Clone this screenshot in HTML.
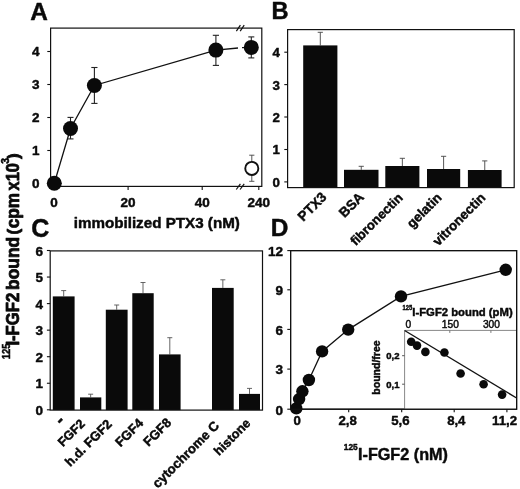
<!DOCTYPE html>
<html><head><meta charset="utf-8"><title>Figure</title>
<style>
html,body{margin:0;padding:0;background:#fff;}
svg{display:block;font-family:"Liberation Sans", sans-serif;}
text{stroke:#0a0a0a;stroke-width:0.45px;stroke-linejoin:round;}
</style></head><body>
<svg width="520" height="489" viewBox="0 0 520 489">
<rect width="520" height="489" fill="#fff"/>
<text x="30.2" y="20" font-size="24.4" font-weight="bold" text-anchor="start" fill="#0a0a0a">A</text>
<rect x="50.6" y="28.1" width="211.20000000000002" height="158.3" fill="none" stroke="#111" stroke-width="1.2"/>
<line x1="47.300000000000004" y1="183.5" x2="50.6" y2="183.5" stroke="#111" stroke-width="1.1"/>
<text x="39.5" y="188.2" font-size="13.5" font-weight="bold" text-anchor="end" fill="#0a0a0a">0</text>
<line x1="47.300000000000004" y1="150.5" x2="50.6" y2="150.5" stroke="#111" stroke-width="1.1"/>
<text x="39.5" y="155.2" font-size="13.5" font-weight="bold" text-anchor="end" fill="#0a0a0a">1</text>
<line x1="47.300000000000004" y1="117.5" x2="50.6" y2="117.5" stroke="#111" stroke-width="1.1"/>
<text x="39.5" y="122.2" font-size="13.5" font-weight="bold" text-anchor="end" fill="#0a0a0a">2</text>
<line x1="47.300000000000004" y1="84.5" x2="50.6" y2="84.5" stroke="#111" stroke-width="1.1"/>
<text x="39.5" y="89.2" font-size="13.5" font-weight="bold" text-anchor="end" fill="#0a0a0a">3</text>
<line x1="47.300000000000004" y1="51.5" x2="50.6" y2="51.5" stroke="#111" stroke-width="1.1"/>
<text x="39.5" y="56.2" font-size="13.5" font-weight="bold" text-anchor="end" fill="#0a0a0a">4</text>
<text x="54" y="207" font-size="13.5" font-weight="bold" text-anchor="middle" fill="#0a0a0a">0</text>
<text x="128.1" y="207" font-size="13.5" font-weight="bold" text-anchor="middle" fill="#0a0a0a">20</text>
<text x="202.2" y="207" font-size="13.5" font-weight="bold" text-anchor="middle" fill="#0a0a0a">40</text>
<text x="258.7" y="207" font-size="13.5" font-weight="bold" text-anchor="middle" fill="#0a0a0a">240</text>
<line x1="54" y1="186.4" x2="54" y2="189.9" stroke="#111" stroke-width="1.1"/>
<line x1="128.1" y1="186.4" x2="128.1" y2="189.9" stroke="#111" stroke-width="1.1"/>
<line x1="202.2" y1="186.4" x2="202.2" y2="189.9" stroke="#111" stroke-width="1.1"/>
<line x1="258.8" y1="186.4" x2="258.8" y2="189.9" stroke="#111" stroke-width="1.1"/>
<line x1="236.37300000000002" y1="31.1" x2="240.4" y2="25.1" stroke="#111" stroke-width="1.2"/>
<line x1="240.173" y1="31.1" x2="244.2" y2="25.1" stroke="#111" stroke-width="1.2"/>
<line x1="236.3" y1="189.5" x2="240.4" y2="183.8" stroke="#111" stroke-width="1.2"/>
<line x1="240.1" y1="189.5" x2="244.2" y2="183.8" stroke="#111" stroke-width="1.2"/>
<text x="156.8" y="228.3" font-size="15.2" font-weight="bold" text-anchor="middle" fill="#0a0a0a">immobilized PTX3 (nM)</text>
<polyline fill="none" stroke="#111" stroke-width="1.3" points="54.3,183.3 70.5,128.5 94.4,85.5 215.9,50.1 238,48"/>
<line x1="242" y1="47.6" x2="251" y2="47.4" stroke="#111" stroke-width="1.3"/>
<line x1="70.5" y1="117.4" x2="70.5" y2="138.9" stroke="#222" stroke-width="1.1"/>
<line x1="67.5" y1="117.4" x2="73.5" y2="117.4" stroke="#222" stroke-width="1.1"/>
<line x1="67.5" y1="138.9" x2="73.5" y2="138.9" stroke="#222" stroke-width="1.1"/>
<line x1="94.4" y1="67.5" x2="94.4" y2="103.4" stroke="#222" stroke-width="1.1"/>
<line x1="91.30000000000001" y1="67.5" x2="97.5" y2="67.5" stroke="#222" stroke-width="1.1"/>
<line x1="91.30000000000001" y1="103.4" x2="97.5" y2="103.4" stroke="#222" stroke-width="1.1"/>
<line x1="215.9" y1="35.3" x2="215.9" y2="65.4" stroke="#222" stroke-width="1.1"/>
<line x1="212.8" y1="35.3" x2="219.0" y2="35.3" stroke="#222" stroke-width="1.1"/>
<line x1="212.8" y1="65.4" x2="219.0" y2="65.4" stroke="#222" stroke-width="1.1"/>
<line x1="251.3" y1="36.9" x2="251.3" y2="57.9" stroke="#222" stroke-width="1.1"/>
<line x1="248.3" y1="36.9" x2="254.3" y2="36.9" stroke="#222" stroke-width="1.1"/>
<line x1="248.3" y1="57.9" x2="254.3" y2="57.9" stroke="#222" stroke-width="1.1"/>
<line x1="251.8" y1="155.2" x2="251.8" y2="181.3" stroke="#444" stroke-width="0.9"/>
<line x1="249.20000000000002" y1="155.2" x2="254.4" y2="155.2" stroke="#444" stroke-width="0.9"/>
<line x1="249.20000000000002" y1="181.3" x2="254.4" y2="181.3" stroke="#444" stroke-width="0.9"/>
<circle cx="54.3" cy="183.3" r="7.5" fill="#0a0a0a"/>
<circle cx="70.5" cy="128.5" r="7.5" fill="#0a0a0a"/>
<circle cx="94.4" cy="85.5" r="7.5" fill="#0a0a0a"/>
<circle cx="215.9" cy="50.1" r="7.5" fill="#0a0a0a"/>
<circle cx="251.3" cy="47.4" r="7.5" fill="#0a0a0a"/>
<circle cx="251.8" cy="168.4" r="6.55" fill="#fff" stroke="#111" stroke-width="1.9"/>
<text transform="translate(9.7,359.3) rotate(-90)" font-size="10.6" font-weight="bold" fill="#0a0a0a" style="stroke-width:0.5px" textLength="15.8" lengthAdjust="spacingAndGlyphs">125</text>
<text transform="translate(19.35,345.6) rotate(-90)" font-size="18" font-weight="bold" fill="#0a0a0a" style="stroke-width:0.8px" textLength="53" lengthAdjust="spacingAndGlyphs">I-FGF2</text>
<text transform="translate(19.35,289.9) rotate(-90)" font-size="18" font-weight="bold" fill="#0a0a0a" style="stroke-width:0.8px" textLength="53.1" lengthAdjust="spacingAndGlyphs">bound</text>
<text transform="translate(19.0,234.4) rotate(-90)" font-size="16.3" font-weight="bold" fill="#0a0a0a" style="stroke-width:0.8px" textLength="5.6" lengthAdjust="spacingAndGlyphs">(</text>
<text transform="translate(19.35,228.3) rotate(-90)" font-size="18" font-weight="bold" fill="#0a0a0a" style="stroke-width:0.8px" textLength="35.4" lengthAdjust="spacingAndGlyphs">cpm</text>
<text transform="translate(19.35,190.4) rotate(-90)" font-size="18" font-weight="bold" fill="#0a0a0a" style="stroke-width:0.8px" textLength="27.4" lengthAdjust="spacingAndGlyphs">x10</text>
<text transform="translate(8.7,163.7) rotate(-90)" font-size="10.3" font-weight="bold" fill="#0a0a0a" style="stroke-width:0.5px">3</text>
<text transform="translate(19.0,159) rotate(-90)" font-size="16.3" font-weight="bold" fill="#0a0a0a" style="stroke-width:0.8px" textLength="5.6" lengthAdjust="spacingAndGlyphs">)</text>
<text x="271.4" y="19" font-size="23.6" font-weight="bold" text-anchor="start" fill="#0a0a0a">B</text>
<line x1="320.29999999999995" y1="32.3" x2="320.29999999999995" y2="45.4" stroke="#444" stroke-width="0.9"/>
<line x1="317.69999999999993" y1="32.3" x2="322.9" y2="32.3" stroke="#444" stroke-width="0.9"/>
<rect x="303.20" y="45.40" width="34.20" height="142.20" fill="#0a0a0a"/>
<line x1="361.25" y1="166.3" x2="361.25" y2="169.8" stroke="#444" stroke-width="0.9"/>
<line x1="358.65" y1="166.3" x2="363.85" y2="166.3" stroke="#444" stroke-width="0.9"/>
<rect x="344.00" y="169.80" width="34.50" height="17.80" fill="#0a0a0a"/>
<line x1="402.35" y1="158.3" x2="402.35" y2="166" stroke="#444" stroke-width="0.9"/>
<line x1="399.75" y1="158.3" x2="404.95000000000005" y2="158.3" stroke="#444" stroke-width="0.9"/>
<rect x="385.30" y="166.00" width="34.10" height="21.60" fill="#0a0a0a"/>
<line x1="443.6" y1="156.3" x2="443.6" y2="169" stroke="#444" stroke-width="0.9"/>
<line x1="441.0" y1="156.3" x2="446.20000000000005" y2="156.3" stroke="#444" stroke-width="0.9"/>
<rect x="427.00" y="169.00" width="33.20" height="18.60" fill="#0a0a0a"/>
<line x1="484.75" y1="160.9" x2="484.75" y2="170" stroke="#444" stroke-width="0.9"/>
<line x1="482.15" y1="160.9" x2="487.35" y2="160.9" stroke="#444" stroke-width="0.9"/>
<rect x="467.90" y="170.00" width="33.70" height="17.60" fill="#0a0a0a"/>
<rect x="287.6" y="29.6" width="226.60000000000002" height="158.0" fill="none" stroke="#111" stroke-width="1.2"/>
<line x1="284.3" y1="181.9" x2="287.6" y2="181.9" stroke="#111" stroke-width="1.1"/>
<text x="279.8" y="186.8" font-size="13.3" font-weight="bold" text-anchor="end" fill="#0a0a0a">0</text>
<line x1="284.3" y1="149.5" x2="287.6" y2="149.5" stroke="#111" stroke-width="1.1"/>
<text x="279.8" y="154.4" font-size="13.3" font-weight="bold" text-anchor="end" fill="#0a0a0a">1</text>
<line x1="284.3" y1="117" x2="287.6" y2="117" stroke="#111" stroke-width="1.1"/>
<text x="279.8" y="121.9" font-size="13.3" font-weight="bold" text-anchor="end" fill="#0a0a0a">2</text>
<line x1="284.3" y1="84.6" x2="287.6" y2="84.6" stroke="#111" stroke-width="1.1"/>
<text x="279.8" y="89.5" font-size="13.3" font-weight="bold" text-anchor="end" fill="#0a0a0a">3</text>
<line x1="284.3" y1="52.2" x2="287.6" y2="52.2" stroke="#111" stroke-width="1.1"/>
<text x="279.8" y="57.1" font-size="13.3" font-weight="bold" text-anchor="end" fill="#0a0a0a">4</text>
<text x="327.4" y="197.9" font-size="13.6" font-weight="bold" text-anchor="end" fill="#0a0a0a" transform="rotate(-45 327.4 197.9)">PTX3</text>
<text x="364.75" y="198.0" font-size="13.6" font-weight="bold" text-anchor="end" fill="#0a0a0a" transform="rotate(-45 364.75 198.0)">BSA</text>
<text x="403.55" y="198.5" font-size="13.1" font-weight="bold" text-anchor="end" fill="#0a0a0a" transform="rotate(-45 403.55 198.5)">fibronectin</text>
<text x="442.5" y="198.5" font-size="13.3" font-weight="bold" text-anchor="end" fill="#0a0a0a" transform="rotate(-45 442.5 198.5)">gelatin</text>
<text x="486.25" y="198.5" font-size="13.3" font-weight="bold" text-anchor="end" fill="#0a0a0a" transform="rotate(-45 486.25 198.5)">vitronectin</text>
<text x="31.3" y="237" font-size="25" font-weight="bold" text-anchor="start" fill="#0a0a0a">C</text>
<line x1="63.699999999999996" y1="290.6" x2="63.699999999999996" y2="296.4" stroke="#555" stroke-width="0.9"/>
<line x1="61.199999999999996" y1="290.6" x2="66.19999999999999" y2="290.6" stroke="#555" stroke-width="0.9"/>
<rect x="52.80" y="296.40" width="21.80" height="113.70" fill="#0a0a0a"/>
<line x1="90.65" y1="394.2" x2="90.65" y2="397.4" stroke="#555" stroke-width="0.9"/>
<line x1="88.15" y1="394.2" x2="93.15" y2="394.2" stroke="#555" stroke-width="0.9"/>
<rect x="80.00" y="397.40" width="21.30" height="12.70" fill="#0a0a0a"/>
<line x1="116.69999999999999" y1="305" x2="116.69999999999999" y2="309.7" stroke="#555" stroke-width="0.9"/>
<line x1="114.19999999999999" y1="305" x2="119.19999999999999" y2="305" stroke="#555" stroke-width="0.9"/>
<rect x="105.80" y="309.70" width="21.80" height="100.40" fill="#0a0a0a"/>
<line x1="143.0" y1="282.5" x2="143.0" y2="293.2" stroke="#555" stroke-width="0.9"/>
<line x1="140.5" y1="282.5" x2="145.5" y2="282.5" stroke="#555" stroke-width="0.9"/>
<rect x="132.30" y="293.20" width="21.40" height="116.90" fill="#0a0a0a"/>
<line x1="169.8" y1="337.7" x2="169.8" y2="354.4" stroke="#555" stroke-width="0.9"/>
<line x1="167.3" y1="337.7" x2="172.3" y2="337.7" stroke="#555" stroke-width="0.9"/>
<rect x="159.00" y="354.40" width="21.60" height="55.70" fill="#0a0a0a"/>
<line x1="222.85" y1="279.8" x2="222.85" y2="287.9" stroke="#555" stroke-width="0.9"/>
<line x1="220.35" y1="279.8" x2="225.35" y2="279.8" stroke="#555" stroke-width="0.9"/>
<rect x="212.00" y="287.90" width="21.70" height="122.20" fill="#0a0a0a"/>
<line x1="249.5" y1="388.4" x2="249.5" y2="393.9" stroke="#555" stroke-width="0.9"/>
<line x1="247.0" y1="388.4" x2="252.0" y2="388.4" stroke="#555" stroke-width="0.9"/>
<rect x="239.00" y="393.90" width="21.00" height="16.20" fill="#0a0a0a"/>
<rect x="50.2" y="250.9" width="212.3" height="159.20000000000002" fill="none" stroke="#111" stroke-width="1.2"/>
<line x1="46.900000000000006" y1="409.8" x2="50.2" y2="409.8" stroke="#111" stroke-width="1.1"/>
<text x="43" y="414.8" font-size="13.5" font-weight="bold" text-anchor="end" fill="#0a0a0a">0</text>
<line x1="46.900000000000006" y1="383.25" x2="50.2" y2="383.25" stroke="#111" stroke-width="1.1"/>
<text x="43" y="388.25" font-size="13.5" font-weight="bold" text-anchor="end" fill="#0a0a0a">1</text>
<line x1="46.900000000000006" y1="356.7" x2="50.2" y2="356.7" stroke="#111" stroke-width="1.1"/>
<text x="43" y="361.7" font-size="13.5" font-weight="bold" text-anchor="end" fill="#0a0a0a">2</text>
<line x1="46.900000000000006" y1="330.15" x2="50.2" y2="330.15" stroke="#111" stroke-width="1.1"/>
<text x="43" y="335.15" font-size="13.5" font-weight="bold" text-anchor="end" fill="#0a0a0a">3</text>
<line x1="46.900000000000006" y1="303.6" x2="50.2" y2="303.6" stroke="#111" stroke-width="1.1"/>
<text x="43" y="308.6" font-size="13.5" font-weight="bold" text-anchor="end" fill="#0a0a0a">4</text>
<line x1="46.900000000000006" y1="277.05" x2="50.2" y2="277.05" stroke="#111" stroke-width="1.1"/>
<text x="43" y="282.05" font-size="13.5" font-weight="bold" text-anchor="end" fill="#0a0a0a">5</text>
<line x1="46.900000000000006" y1="250.5" x2="50.2" y2="250.5" stroke="#111" stroke-width="1.1"/>
<text x="43" y="255.5" font-size="13.5" font-weight="bold" text-anchor="end" fill="#0a0a0a">6</text>
<text x="65.8" y="422.0" font-size="18.5" font-weight="bold" text-anchor="end" fill="#0a0a0a" transform="rotate(-45 65.8 422.0)">-</text>
<text x="85.65" y="424.5" font-size="12.6" font-weight="bold" text-anchor="end" fill="#0a0a0a" transform="rotate(-45 85.65 424.5)">FGF2</text>
<text x="112.69999999999999" y="424.8" font-size="13.0" font-weight="bold" text-anchor="end" fill="#0a0a0a" transform="rotate(-45 112.69999999999999 424.8)">h.d. FGF2</text>
<text x="144.0" y="424.0" font-size="13" font-weight="bold" text-anchor="end" fill="#0a0a0a" transform="rotate(-45 144.0 424.0)">FGF4</text>
<text x="172.10000000000002" y="423.5" font-size="13" font-weight="bold" text-anchor="end" fill="#0a0a0a" transform="rotate(-45 172.10000000000002 423.5)">FGF8</text>
<text x="220.04999999999998" y="426.5" font-size="13.2" font-weight="bold" text-anchor="end" fill="#0a0a0a" transform="rotate(-45 220.04999999999998 426.5)">cytochrome C</text>
<text x="251.3" y="424.0" font-size="12.8" font-weight="bold" text-anchor="end" fill="#0a0a0a" transform="rotate(-45 251.3 424.0)">histone</text>
<text x="270.7" y="235.6" font-size="24.4" font-weight="bold" text-anchor="start" fill="#0a0a0a">D</text>
<rect x="290.6" y="250.6" width="226.0" height="158.6" fill="none" stroke="#111" stroke-width="1.2"/>
<line x1="287.3" y1="409.2" x2="290.6" y2="409.2" stroke="#111" stroke-width="1.1"/>
<text x="283" y="414.5" font-size="13.5" font-weight="bold" text-anchor="end" fill="#0a0a0a">0</text>
<line x1="287.3" y1="369.1" x2="290.6" y2="369.1" stroke="#111" stroke-width="1.1"/>
<text x="283" y="374.40000000000003" font-size="13.5" font-weight="bold" text-anchor="end" fill="#0a0a0a">3</text>
<line x1="287.3" y1="329.4" x2="290.6" y2="329.4" stroke="#111" stroke-width="1.1"/>
<text x="283" y="334.7" font-size="13.5" font-weight="bold" text-anchor="end" fill="#0a0a0a">6</text>
<line x1="287.3" y1="289.8" x2="290.6" y2="289.8" stroke="#111" stroke-width="1.1"/>
<text x="283" y="295.1" font-size="13.5" font-weight="bold" text-anchor="end" fill="#0a0a0a">9</text>
<line x1="287.3" y1="250.6" x2="290.6" y2="250.6" stroke="#111" stroke-width="1.1"/>
<text x="283" y="255.9" font-size="13.5" font-weight="bold" text-anchor="end" fill="#0a0a0a">12</text>
<line x1="296" y1="409.2" x2="296" y2="412.2" stroke="#111" stroke-width="1.1"/>
<text x="297.1" y="425.3" font-size="13.2" font-weight="bold" text-anchor="middle" fill="#0a0a0a">0</text>
<line x1="348.7" y1="409.2" x2="348.7" y2="412.2" stroke="#111" stroke-width="1.1"/>
<text x="347.6" y="425.3" font-size="13.2" font-weight="bold" text-anchor="middle" fill="#0a0a0a">2,8</text>
<line x1="401.7" y1="409.2" x2="401.7" y2="412.2" stroke="#111" stroke-width="1.1"/>
<text x="400.4" y="425.3" font-size="13.2" font-weight="bold" text-anchor="middle" fill="#0a0a0a">5,6</text>
<line x1="454.2" y1="409.2" x2="454.2" y2="412.2" stroke="#111" stroke-width="1.1"/>
<text x="456.3" y="425.3" font-size="13.2" font-weight="bold" text-anchor="middle" fill="#0a0a0a">8,4</text>
<line x1="506.9" y1="409.2" x2="506.9" y2="412.2" stroke="#111" stroke-width="1.1"/>
<text x="504.6" y="425.3" font-size="13.2" font-weight="bold" text-anchor="middle" fill="#0a0a0a">11,2</text>
<polyline fill="none" stroke="#111" stroke-width="1.3" points="296.3,408.4 299.1,399.1 302.4,391.3 308.9,380 322.1,351.4 348.2,329.6 401,296.4 505.7,269.8"/>
<circle cx="296.3" cy="408.4" r="6.2" fill="#0a0a0a"/>
<circle cx="299.1" cy="399.1" r="6.2" fill="#0a0a0a"/>
<circle cx="302.4" cy="391.3" r="6.2" fill="#0a0a0a"/>
<circle cx="308.9" cy="380" r="6.2" fill="#0a0a0a"/>
<circle cx="322.1" cy="351.4" r="6.2" fill="#0a0a0a"/>
<circle cx="348.2" cy="329.6" r="6.2" fill="#0a0a0a"/>
<circle cx="401" cy="296.4" r="6.2" fill="#0a0a0a"/>
<circle cx="505.7" cy="269.8" r="6.2" fill="#0a0a0a"/>
<text x="343.8" y="449.9" font-size="9.8" font-weight="bold" fill="#0a0a0a" textLength="14" lengthAdjust="spacingAndGlyphs">125</text>
<text x="358" y="460.2" font-size="16.2" font-weight="bold" fill="#0a0a0a">I-FGF2 (nM)</text>
<rect x="404.10" y="329.90" width="112.00" height="78.80" fill="#fff"/>
<line x1="404.6" y1="330.4" x2="516.6" y2="330.4" stroke="#888" stroke-width="1"/>
<line x1="404.6" y1="330.4" x2="404.6" y2="409.2" stroke="#888" stroke-width="1"/>
<rect x="290.6" y="250.6" width="226.0" height="158.6" fill="none" stroke="#111" stroke-width="1.2"/>
<text x="408.3" y="327.6" font-size="10.2" font-weight="normal" text-anchor="middle" fill="#0a0a0a">0</text>
<text x="450.3" y="327.6" font-size="10.2" font-weight="normal" text-anchor="middle" fill="#0a0a0a">150</text>
<line x1="449.8" y1="330.4" x2="449.8" y2="332.9" stroke="#777" stroke-width="1"/>
<text x="491.4" y="327.6" font-size="10.2" font-weight="normal" text-anchor="middle" fill="#0a0a0a">300</text>
<line x1="490.9" y1="330.4" x2="490.9" y2="332.9" stroke="#777" stroke-width="1"/>
<line x1="402.1" y1="355.7" x2="404.6" y2="355.7" stroke="#555" stroke-width="1"/>
<text x="399.5" y="359.2" font-size="9.5" font-weight="bold" text-anchor="end" fill="#0a0a0a">0,2</text>
<line x1="402.1" y1="384.2" x2="404.6" y2="384.2" stroke="#555" stroke-width="1"/>
<text x="399.5" y="387.7" font-size="9.5" font-weight="bold" text-anchor="end" fill="#0a0a0a">0,1</text>
<text x="402.5" y="310.0" font-size="7.2" font-weight="bold" fill="#0a0a0a" textLength="9.8" lengthAdjust="spacingAndGlyphs">125</text>
<text x="412.3" y="316" font-size="11.3" font-weight="bold" fill="#0a0a0a">I-FGF2 bound (pM)</text>
<text x="380" y="367.5" font-size="10.5" font-weight="bold" text-anchor="middle" fill="#0a0a0a" transform="rotate(-90 380 367.5)">bound/free</text>
<line x1="404.6" y1="330.5" x2="516.6" y2="398" stroke="#111" stroke-width="1.4"/>
<circle cx="411.2" cy="341.8" r="4.3" fill="#0a0a0a"/>
<circle cx="417" cy="345.6" r="4.3" fill="#0a0a0a"/>
<circle cx="425.4" cy="351.9" r="4.3" fill="#0a0a0a"/>
<circle cx="444.4" cy="352.5" r="4.3" fill="#0a0a0a"/>
<circle cx="460.6" cy="373.5" r="4.3" fill="#0a0a0a"/>
<circle cx="483.6" cy="384.2" r="4.3" fill="#0a0a0a"/>
<circle cx="502.1" cy="394.6" r="4.3" fill="#0a0a0a"/>
</svg>
</body></html>
